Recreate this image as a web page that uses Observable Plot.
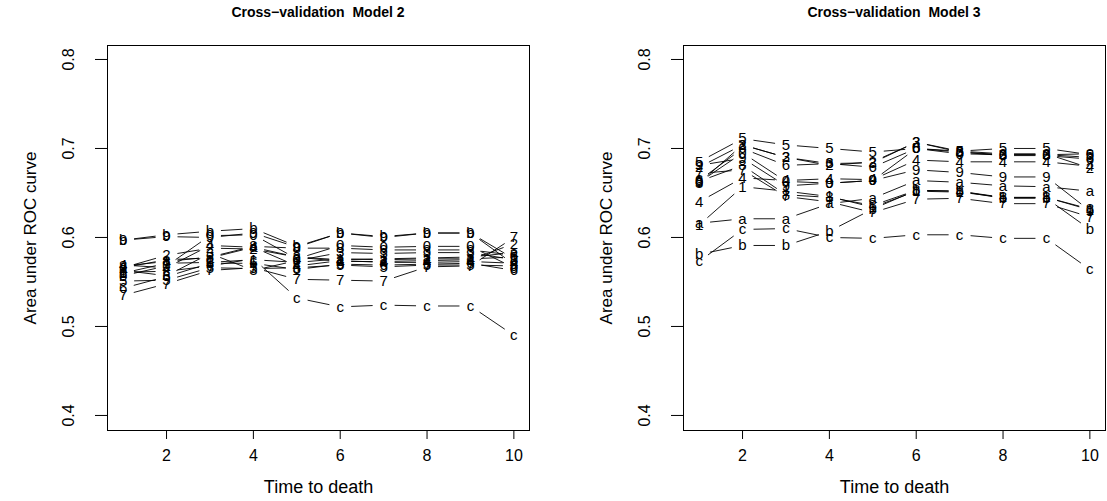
<!DOCTYPE html>
<html><head><meta charset="utf-8">
<script src="https://cdn.jsdelivr.net/npm/d3@7"></script>
<script src="https://cdn.jsdelivr.net/npm/@observablehq/plot@0.6"></script>
<style>
body{margin:0;background:#fff;}
#wrap{position:relative;width:1107px;height:501px;overflow:hidden;font-family:"Liberation Sans",Arial,sans-serif;background:#fff;}
.panel{position:absolute;top:0;}
.title{height:30px;line-height:25px;font-weight:bold;font-size:14px;white-space:pre;text-align:center;color:#000;box-sizing:border-box;}
</style></head>
<body><div id="wrap"></div>
<script>
const times = [1,2,3,4,5,6,7,8,9,10];
const seriesLabels = ["1","2","3","4","5","6","7","8","9","0","a","b","c"];
const xTicks = [2,4,6,8,10];
const yTicks = [0.4,0.5,0.6,0.7,0.8];
const titles = ["Cross\u2212validation  Model 2", "Cross\u2212validation  Model 3"];
const xLabel = "Time to death";
const yLabel = "Area under ROC curve";

const model2Values = [
  [0.560,0.571,0.572,0.575,0.572,0.576,0.575,0.576,0.576,0.578],
  [0.566,0.580,0.588,0.587,0.578,0.573,0.573,0.574,0.575,0.593],
  [0.563,0.557,0.582,0.563,0.574,0.583,0.582,0.583,0.583,0.575],
  [0.569,0.566,0.591,0.589,0.568,0.574,0.572,0.572,0.573,0.571],
  [0.551,0.552,0.566,0.565,0.566,0.569,0.567,0.569,0.569,0.568],
  [0.543,0.556,0.571,0.571,0.564,0.570,0.569,0.570,0.571,0.563],
  [0.535,0.548,0.563,0.566,0.553,0.552,0.551,0.567,0.568,0.600],
  [0.568,0.573,0.578,0.590,0.588,0.588,0.586,0.586,0.586,0.580],
  [0.597,0.601,0.600,0.605,0.589,0.605,0.600,0.605,0.605,0.570],
  [0.557,0.568,0.602,0.603,0.576,0.591,0.589,0.590,0.590,0.566],
  [0.566,0.575,0.577,0.589,0.578,0.575,0.576,0.577,0.578,0.583],
  [0.597,0.603,0.607,0.610,0.590,0.605,0.601,0.605,0.605,0.576],
  [0.561,0.562,0.568,0.576,0.532,0.522,0.524,0.523,0.523,0.490]
];
const model3Values = [
  [0.614,0.657,0.652,0.646,0.634,0.652,0.651,0.645,0.645,0.631],
  [0.679,0.704,0.690,0.681,0.685,0.707,0.697,0.694,0.694,0.678],
  [0.661,0.704,0.690,0.683,0.684,0.707,0.696,0.693,0.693,0.690],
  [0.640,0.667,0.664,0.666,0.665,0.687,0.685,0.685,0.685,0.680],
  [0.685,0.711,0.704,0.700,0.696,0.700,0.697,0.700,0.700,0.693],
  [0.664,0.700,0.681,0.683,0.679,0.700,0.696,0.692,0.692,0.688],
  [0.672,0.676,0.646,0.640,0.628,0.643,0.644,0.638,0.638,0.623],
  [0.663,0.681,0.648,0.645,0.636,0.653,0.652,0.645,0.645,0.632],
  [0.681,0.689,0.658,0.661,0.664,0.676,0.673,0.668,0.668,0.630],
  [0.662,0.695,0.663,0.661,0.664,0.700,0.694,0.693,0.693,0.694],
  [0.616,0.621,0.621,0.638,0.644,0.664,0.662,0.658,0.657,0.652],
  [0.581,0.591,0.591,0.607,0.632,0.653,0.652,0.644,0.644,0.609],
  [0.573,0.609,0.610,0.600,0.599,0.603,0.603,0.599,0.599,0.564]
];

const FONT = '"Liberation Sans", Arial, sans-serif';

function panel(values, title, left, width, mr) {
  const ml = 107, mt = 15, mb = 71, height = 471;
  const xDom = [0.64, 10.36], yDom = [0.3831, 0.8157];
  const kx = (width - ml - mr) / (xDom[1] - xDom[0]);
  const ky = (height - mt - mb) / (yDom[1] - yDom[0]);
  const gap = 11;
  const pts = [], segs = [];
  seriesLabels.forEach((lab, i) => {
    const row = values[i];
    row.forEach((v, j) => {
      pts.push({x: times[j], y: v, s: lab});
      if (j < row.length - 1) {
        const x1 = times[j], y1 = v, x2 = times[j + 1], y2 = row[j + 1];
        const L = Math.hypot((x2 - x1) * kx, (y2 - y1) * ky);
        if (L > 2 * gap) {
          const f = gap / L;
          segs.push({x1: x1 + (x2 - x1) * f, y1: y1 + (y2 - y1) * f,
                     x2: x2 - (x2 - x1) * f, y2: y2 - (y2 - y1) * f});
        }
      }
    });
  });
  const svg = Plot.plot({
    width, height, marginLeft: ml, marginRight: mr, marginTop: mt, marginBottom: mb,
    style: {fontFamily: FONT, fontSize: "16px", color: "#000", background: "#fff", overflow: "visible"},
    x: {domain: xDom},
    y: {domain: yDom},
    marks: [
      Plot.frame({stroke: "#000", strokeWidth: 1}),
      Plot.axisX({ticks: xTicks, tickSize: 9, tickPadding: 10, fontSize: 16, label: null, stroke: "#000"}),
      Plot.axisY({ticks: yTicks, tickSize: 12, tickPadding: 22, tickRotate: -90, tickFormat: d3.format(".1f"), fontSize: 16, label: null, stroke: "#000"}),
      Plot.text([xLabel], {frameAnchor: "bottom", dy: 62, fontSize: 18, fill: "#000"}),
      Plot.text([yLabel], {frameAnchor: "left", dx: -77, rotate: -90, textAnchor: "middle", fontSize: 17, fill: "#000"}),
      Plot.link(segs, {x1: "x1", y1: "y1", x2: "x2", y2: "y2", stroke: "#000", strokeWidth: 0.9}),
      Plot.text(pts, {x: "x", y: "y", text: "s", fontSize: 15, fill: "#000"})
    ]
  });
  const div = document.createElement("div");
  div.className = "panel";
  div.style.left = left + "px";
  div.style.width = width + "px";
  const t = document.createElement("div");
  t.className = "title";
  t.style.paddingLeft = ml + "px";
  t.style.paddingRight = mr + "px";
  t.textContent = title;
  div.appendChild(t);
  div.appendChild(svg);
  document.getElementById("wrap").appendChild(div);
}

panel(model2Values, titles[0], 0, 553, 24);
panel(model3Values, titles[1], 576, 531, 2);
</script>
</body></html>
